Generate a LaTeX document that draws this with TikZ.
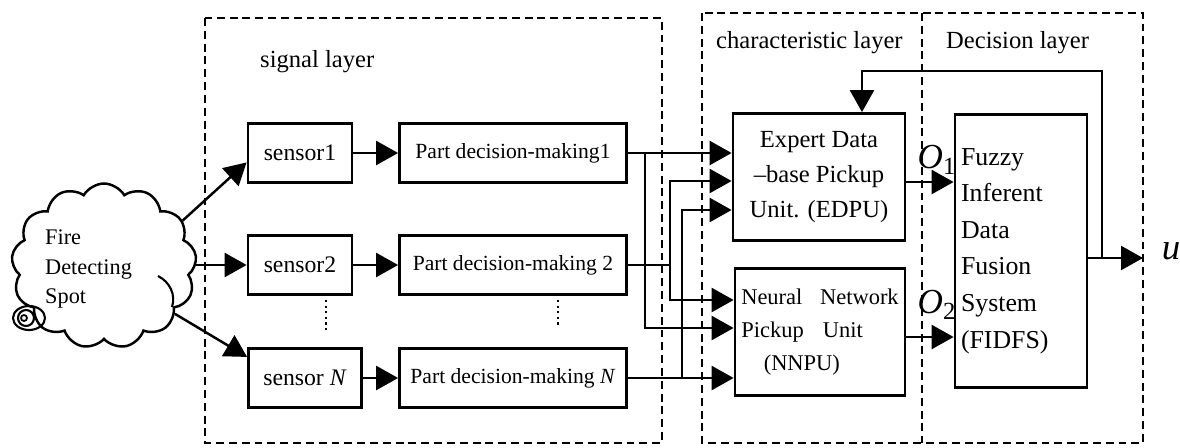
\documentclass[tikz,border=0pt]{standalone}
\usepackage{fontspec}
\setmainfont{Liberation Serif}
\usetikzlibrary{arrows.meta,shapes.symbols}

\begin{document}
\begin{tikzpicture}[x=0.02cm,y=-0.02cm]
  \tikzset{
    unitbox/.style={draw,line width=1.6pt,inner sep=2pt,align=center},
    sensorbox/.style={unitbox,minimum width=2.08cm,minimum height=1.18cm,
      font=\fontsize{13.5}{16}\selectfont},
    partbox/.style={unitbox,minimum width=4.54cm,minimum height=1.18cm,
      font=\fontsize{12.3}{15}\selectfont},
    flow/.style={-{Triangle[length=0.44cm,width=0.48cm]},line width=1.4pt},
    wire/.style={line width=1.4pt},
    layerbox/.style={line width=1.4pt,dash pattern=on 4.5pt off 2.8pt},
    layertitle/.style={anchor=west,font=\fontsize{14}{17}\selectfont}
  }
  \useasboundingbox (0,0) rectangle (1180,447);

  % layers
  \draw[layerbox] (205,18) rectangle (662,443);
  \draw[layerbox] (702,13) rectangle (1143,443);
  \draw[layerbox] (922,13) -- (922,443);
  \node[layertitle] (siglayer) at (254,62) {signal layer};
  \node[layertitle] (charlayer) at (710,43) {characteristic layer};
  \node[layertitle] (declayer) at (940,43) {Decision layer};

  % fire spot
  \node[cloud,draw,line width=1.4pt,cloud puffs=13,cloud puff arc=120,
    cloud ignores aspect,minimum width=3.7cm,minimum height=3.3cm]
    (spot) at (104,266) {};
  \node[anchor=west,align=left,font=\fontsize{12.7}{17}\selectfont]
    (spottext) at (39,269) {Fire\\Detecting\\Spot};
  \draw[line width=1.2pt] (29,318) ellipse (0.32cm and 0.24cm);
  \draw[line width=1.2pt] (26,318) circle (0.16cm);
  \draw[line width=1pt] (24,318) circle (0.06cm);
  \draw[line width=1.2pt] (158,276) .. controls (170,282) and (176,295) .. (172,307);

  \node[sensorbox] (s1) at (300,153) {sensor1};
  \node[sensorbox] (s2) at (300,265) {sensor2};
  \node[sensorbox,minimum width=2.26cm] (sN) at (305,378) {sensor \textit{N}};
  \node[partbox] (pd1) at (513,153) {Part decision-making1};
  \node[partbox] (pd2) at (513,265) {Part decision-making 2};
  \node[partbox] (pdN) at (513,378) {Part decision-making \textit{N}};
  \draw[dotted,line width=1.2pt] (326,300) -- (326,332);
  \draw[dotted,line width=1.2pt] (558,300) -- (558,327);

  \draw[flow] (spot.30) -- (s1.190);
  \draw[flow] (spot.east |- s2.west) -- (s2.west);
  \draw[flow] (spot.-34) -- (sN.160);
  \draw[flow] (s1.east) -- (pd1.west);
  \draw[flow] (s2.east) -- (pd2.west);
  \draw[flow] (sN.east) -- (pdN.west);

  \node[unitbox,minimum width=3.44cm,minimum height=2.54cm,
    font=\fontsize{14}{20}\selectfont] (edpu) at (819,177)
    {Expert Data\\--base Pickup\\Unit. (EDPU)};
  \node[unitbox,minimum width=3.4cm,minimum height=2.54cm,text width=3.15cm,
    align=left,font=\fontsize{12.8}{19}\selectfont] (nnpu) at (820,332)
    {Neural\hfill Network\\Pickup\hspace{0.85em}Unit\\\hspace*{1em}(NNPU)};
  \node[unitbox,minimum width=2.64cm,minimum height=5.46cm,text width=2.4cm,
    align=left,font=\fontsize{14.7}{20.8}\selectfont] (fidfs) at (1021,251)
    {Fuzzy\\Inferent\\Data\\Fusion\\System\\(FIDFS)};

  % part decisions to pickup units
  \coordinate (j1) at (645,153);
  \coordinate (j2) at (670,265);
  \coordinate (j3) at (682,378);
  \draw[flow] (pd1.east) -- (pd1.east -| edpu.west);
  \draw[flow] (j1) |- ([yshift=0.08cm]nnpu.west);
  \draw[wire] (pd2.east) -- (j2);
  \draw[flow] (j2) |- ([yshift=-0.08cm]edpu.west);
  \draw[flow] (j2) |- ([yshift=0.64cm]nnpu.west);
  \draw[flow] (pdN.east) -- (pdN.east -| nnpu.west);
  \draw[flow] (j3) |- ([yshift=-0.66cm]edpu.west);

  \coordinate (o1) at ([yshift=-0.1cm]edpu.east);
  \coordinate (o2) at ([yshift=-0.1cm]nnpu.east);
  \draw[flow] (o1) -- (o1 -| fidfs.west);
  \draw[flow] (o2) -- (o2 -| fidfs.west);
  \node[font=\fontsize{20}{20}\selectfont] (q1) at (937,160)
    {\textit{O}\textsubscript{1}};
  \node[font=\fontsize{20}{20}\selectfont] (q2) at (937,305)
    {\textit{O}\textsubscript{2}};

  \coordinate (fb) at (1102,258);
  \coordinate (fbtop) at (1102,71);
  \coordinate (out) at (1143,258);
  \draw[flow] (fidfs.east |- fb) -- (out);
  \draw[flow] (fb) -- (fbtop) -| ([xshift=0.86cm]edpu.north);
  \node[font=\fontsize{21}{21}\selectfont\itshape] (u) at (1171,251) {u};
\end{tikzpicture}
\end{document}
